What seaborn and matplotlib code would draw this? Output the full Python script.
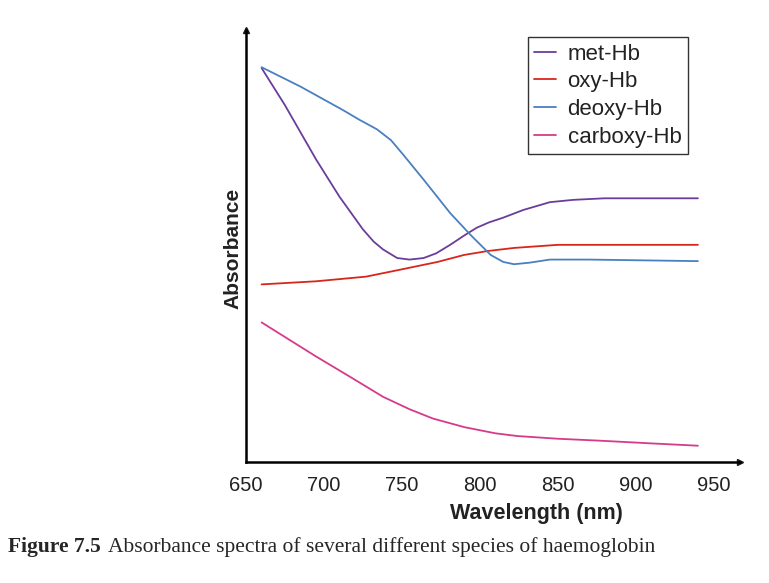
import matplotlib
matplotlib.use("Agg")
import matplotlib.pyplot as plt
import seaborn as sns
import pandas as pd

# ---- data (arbitrary absorbance units) ----
met_wl = [660, 675, 695, 710, 725, 732, 738, 747, 755, 764, 772, 781, 790, 798, 806, 815, 828, 845, 860, 880, 910, 940]
met_ab = [5.08, 4.60, 3.90, 3.42, 3.00, 2.84, 2.74, 2.63, 2.61, 2.63, 2.69, 2.80, 2.92, 3.02, 3.09, 3.15, 3.25, 3.35, 3.38, 3.40, 3.40, 3.40]

oxy_wl = [660, 695, 727, 749, 773, 790, 805, 822, 850, 900, 940]
oxy_ab = [2.29, 2.33, 2.39, 2.48, 2.58, 2.67, 2.72, 2.76, 2.80, 2.80, 2.80]

deoxy_wl = [660, 685, 712, 723, 734, 743, 751, 764, 781, 794, 807, 815, 822, 832, 845, 870, 940]
deoxy_ab = [5.09, 4.84, 4.54, 4.41, 4.29, 4.15, 3.96, 3.64, 3.21, 2.93, 2.67, 2.58, 2.55, 2.57, 2.61, 2.61, 2.59]

carb_wl = [660, 695, 715, 738, 755, 770, 790, 810, 824, 850, 877, 910, 940]
carb_ab = [1.80, 1.36, 1.12, 0.84, 0.68, 0.56, 0.45, 0.37, 0.335, 0.30, 0.275, 0.24, 0.21]

species = ["met-Hb", "oxy-Hb", "deoxy-Hb", "carboxy-Hb"]
colors = ["#6a3d9a", "#d9261c", "#4a7fc1", "#d63a8a"]
x_ticks = [650, 700, 750, 800, 850, 900, 950]
y_ticks = [1, 2, 3, 4, 5]

frames = []
for name, wl, ab in zip(species, [met_wl, oxy_wl, deoxy_wl, carb_wl],
                        [met_ab, oxy_ab, deoxy_ab, carb_ab]):
    frames.append(pd.DataFrame({"Wavelength": wl, "Absorbance": ab, "Species": name}))
df = pd.concat(frames, ignore_index=True)

sns.set_theme(style="white")
plt.rcParams["font.family"] = ["Liberation Sans", "DejaVu Sans"]

fig = plt.figure(figsize=(7.69, 5.83), dpi=100)
ax = fig.add_axes([246 / 769, 121 / 583, 494 / 769, 432 / 583])

sns.lineplot(data=df, x="Wavelength", y="Absorbance", hue="Species",
             hue_order=species, palette=colors, linewidth=1.3, ax=ax,
             sort=True, estimator=None)

ax.set_xlim(650, 967)
ax.set_ylim(0, 5.57)
ax.set_xticks(x_ticks)
ax.set_xticklabels([str(t) for t in x_ticks], fontsize=14.5, color="#222222")
ax.set_yticks(y_ticks)
ax.set_yticklabels([])
ax.tick_params(axis="x", direction="out", length=4, width=0.8, color="#aaaaaa", pad=6)
ax.tick_params(axis="y", direction="inout", length=3, width=0.8, color="#cccccc")

for s in ["top", "right"]:
    ax.spines[s].set_visible(False)
for s in ["left", "bottom"]:
    ax.spines[s].set_color("black")
    ax.spines[s].set_linewidth(1.8)

# arrow heads
ax.plot(1, 0, ">k", markersize=5, transform=ax.get_yaxis_transform(), clip_on=False)
ax.plot(650, 1, "^k", markersize=5, transform=ax.get_xaxis_transform(), clip_on=False)

ax.set_xlabel("Wavelength (nm)", fontsize=15.5, fontweight="bold", color="#222222")
ax.xaxis.set_label_coords(0.587, -0.095)
ax.set_ylabel("Absorbance", fontsize=15, fontweight="bold", color="#222222")
ax.yaxis.set_label_coords(-0.008, 0.495)

leg = ax.legend(loc="upper right", bbox_to_anchor=(0.895, 0.984), borderaxespad=0,
                fontsize=16, frameon=True, fancybox=False, edgecolor="black",
                handlelength=1.0, handletextpad=0.5, labelspacing=0.3,
                borderpad=0.3, title=None)
leg.get_frame().set_linewidth(1.0)
for t in leg.get_texts():
    t.set_color("#222222")

fig.text(8 / 769, 1 - 552 / 583, "Figure 7.5", fontsize=15.5, fontweight="bold",
         family=["Liberation Serif", "DejaVu Serif"], va="baseline", ha="left")
fig.text(108 / 769, 1 - 552 / 583, "Absorbance spectra of several different species of haemoglobin",
         fontsize=15.5, family=["Liberation Serif", "DejaVu Serif"], va="baseline", ha="left")

fig.savefig("out.png", dpi=100)
